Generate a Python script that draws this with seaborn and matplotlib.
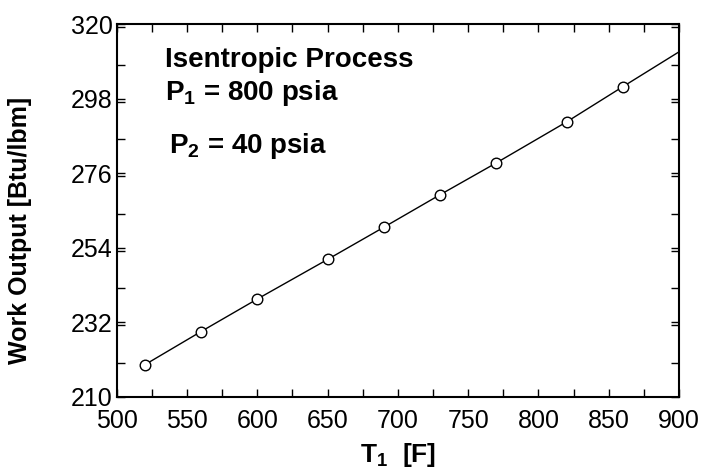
import matplotlib
matplotlib.use("Agg")
import matplotlib.pyplot as plt
from matplotlib.ticker import MultipleLocator
import seaborn as sns
import pandas as pd

# Data
t1_points = [520, 560, 600, 650, 690, 730, 770, 820, 860]
work_points = [219.4, 229.2, 238.8, 250.5, 260.0, 269.6, 279.0, 291.1, 301.5]
t1_line = [520, 560, 600, 650, 690, 730, 770, 820, 860, 900]
work_line = [219.4, 229.2, 238.8, 250.5, 260.0, 269.6, 279.0, 291.1, 301.5, 311.8]
x_ticks = [500, 550, 600, 650, 700, 750, 800, 850, 900]
y_ticks = [210, 232, 254, 276, 298, 320]

sns.set_theme(style="white")
plt.rcParams['font.family'] = ['Liberation Sans', 'DejaVu Sans']
plt.rcParams['mathtext.fontset'] = 'custom'
plt.rcParams['mathtext.rm'] = 'Liberation Sans'
plt.rcParams['mathtext.bf'] = 'Liberation Sans:bold'
for k in ['text.color', 'axes.labelcolor', 'xtick.color', 'ytick.color', 'axes.edgecolor']:
    plt.rcParams[k] = 'black'

fig = plt.figure(figsize=(7.03, 4.71), dpi=100)
ax = fig.add_axes([0.166, 0.158, 0.800, 0.791])

df_line = pd.DataFrame({"T1": t1_line, "W": work_line})
df_pts = pd.DataFrame({"T1": t1_points, "W": work_points})
sns.lineplot(data=df_line, x="T1", y="W", ax=ax, color="black", linewidth=1.0)
sns.scatterplot(data=df_pts, x="T1", y="W", ax=ax, s=58, facecolor="white",
                edgecolor="black", linewidth=1.0, zorder=3)

ax.set_xlim(500, 900)
ax.set_ylim(210, 320)
ax.set_xticks(x_ticks)
ax.set_yticks(y_ticks)
ax.xaxis.set_minor_locator(MultipleLocator(25))
ax.yaxis.set_minor_locator(MultipleLocator(11))
ax.tick_params(which="both", direction="in", top=True, right=True,
               left=True, bottom=True, length=6, width=1.0, color="black")
ax.tick_params(axis="x", which="major", labelsize=18, pad=9)
ax.tick_params(axis="y", which="major", labelsize=18, pad=3)
for s in ax.spines.values():
    s.set_linewidth(1.5)
    s.set_color("black")

ax.set_xlabel(r"T$_\mathbf{1}$  [F]", fontsize=19, fontweight="bold", labelpad=6)
ax.set_ylabel("Work Output [Btu/lbm]", fontsize=18, fontweight="bold")
ax.yaxis.set_label_coords(-0.150, 0.447)

ax.text(0.086, 0.884, "Isentropic Process", transform=ax.transAxes,
        fontsize=20, fontweight="bold", va="baseline", ha="left")
ax.text(0.086, 0.796, r"P$_\mathbf{1}$ = 800 psia", transform=ax.transAxes,
        fontsize=20, fontweight="bold", va="baseline", ha="left")
ax.text(0.093, 0.653, r"P$_\mathbf{2}$ = 40 psia", transform=ax.transAxes,
        fontsize=20, fontweight="bold", va="baseline", ha="left")

fig.savefig("out.png", dpi=100)
